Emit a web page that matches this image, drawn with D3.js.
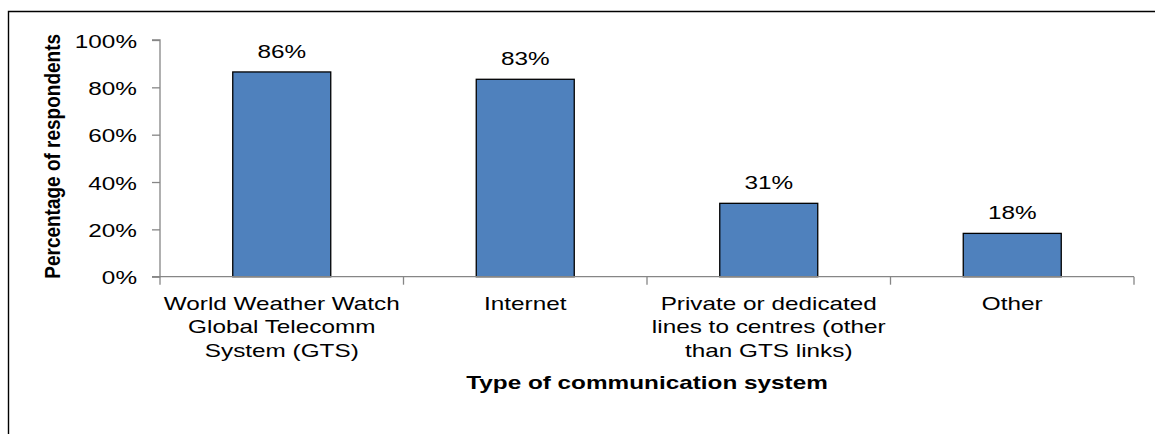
<!DOCTYPE html>
<html>
<head>
<meta charset="utf-8">
<script src="https://cdn.jsdelivr.net/npm/d3@7"></script>
<style>
  html, body { margin: 0; padding: 0; background: #fff; }
  svg { display: block; font-family: "Liberation Sans", Arial, sans-serif; }
</style>
</head>
<body>
<svg id="chart" width="1155" height="434"></svg>
<script>
const categories = [
  ["World Weather Watch", "Global Telecomm", "System (GTS)"],
  ["Internet"],
  ["Private or dedicated", "lines to centres (other", "than GTS links)"],
  ["Other"]
];
const values = [0.865, 0.834, 0.31, 0.183];
const labels = ["86%", "83%", "31%", "18%"];
const yTicks = [0, 0.2, 0.4, 0.6, 0.8, 1.0];
const yTitle = "Percentage of respondents";
const xTitle = "Type of communication system";

const SX = 1.28;   // horizontal stretch of the reference's text
const FS = 19;

const svg = d3.select("#chart");

// outer frame (top and left edges visible)
svg.append("path")
  .attr("d", "M8.5,434 L8.5,11.5 L1155,11.5")
  .attr("fill", "none").attr("stroke", "#000").attr("stroke-width", 1.4);

const pLeft = 160, pRight = 1134, pTop = 40, pBottom = 276.7;

const x = d3.scaleBand().domain(d3.range(categories.length))
  .range([pLeft, pRight]).paddingInner(0).paddingOuter(0);
const y = d3.scaleLinear().domain([0, 1]).range([pBottom, pTop]);

const barW = 98;

// bars
svg.selectAll("rect.bar").data(values).enter().append("rect")
  .attr("class", "bar")
  .attr("x", (d, i) => x(i) + x.bandwidth() / 2 - barW / 2)
  .attr("y", d => y(d))
  .attr("width", barW)
  .attr("height", d => y(0) - y(d))
  .attr("fill", "#4f81bd")
  .attr("stroke", "#000")
  .attr("stroke-width", 1.3);

// value labels
svg.selectAll("text.val").data(values).enter().append("text")
  .attr("class", "val")
  .attr("transform", (d, i) => `translate(${x(i) + x.bandwidth() / 2},${y(d) - 14}) scale(${SX},1)`)
  .attr("text-anchor", "middle")
  .attr("font-size", FS)
  .attr("fill", "#000")
  .text((d, i) => labels[i]);

// y axis
const yAxis = d3.axisLeft(y).tickValues(yTicks).tickFormat(d3.format(".0%"))
  .tickSize(8).tickPadding(0);
const gy = svg.append("g").attr("transform", `translate(${pLeft},0)`).call(yAxis);
gy.select(".domain").attr("stroke", "#868686").attr("stroke-width", 1.3)
  .attr("d", `M-8,${pTop}H0V${pBottom}H-8`);
gy.selectAll(".tick line").attr("stroke", "#868686").attr("stroke-width", 1.3);
gy.selectAll(".tick text")
  .attr("x", null).attr("dy", null)
  .attr("transform", `translate(-23,7) scale(${SX},1)`)
  .attr("font-size", FS).attr("fill", "#000")
  .attr("font-family", "Liberation Sans, Arial, sans-serif");

// x axis
const gx = svg.append("g").attr("transform", `translate(0,${pBottom})`);
gx.append("line").attr("x1", pLeft - 8).attr("x2", pRight).attr("y1", 0).attr("y2", 0)
  .attr("stroke", "#868686").attr("stroke-width", 1.3);
const edges = d3.range(categories.length + 1).map(i => i < categories.length ? x(i) : pRight);
gx.selectAll("line.tk").data(edges).enter().append("line")
  .attr("class", "tk")
  .attr("x1", d => d).attr("x2", d => d)
  .attr("y1", 0).attr("y2", 8)
  .attr("stroke", "#868686").attr("stroke-width", 1.3);

// x category labels
const xl = svg.selectAll("text.cat").data(categories).enter().append("text")
  .attr("class", "cat")
  .attr("transform", (d, i) => `translate(${x(i) + x.bandwidth() / 2},310) scale(${SX},1)`)
  .attr("text-anchor", "middle")
  .attr("font-size", FS)
  .attr("fill", "#000");
xl.each(function(lines) {
  const t = d3.select(this);
  lines.forEach((ln, j) => {
    t.append("tspan").attr("x", 0)
      .attr("dy", j === 0 ? 0 : 23.5).text(ln);
  });
});

// axis titles
svg.append("text")
  .attr("transform", `translate(${(pLeft + pRight) / 2},389) scale(${SX},1)`)
  .attr("text-anchor", "middle").attr("font-size", FS).attr("font-weight", "bold")
  .text(xTitle);

svg.append("text")
  .attr("transform", `translate(60,${(pTop + pBottom) / 2 - 2}) scale(1.12,1) rotate(-90)`)
  .attr("text-anchor", "middle").attr("font-size", FS).attr("font-weight", "bold")
  .text(yTitle);
</script>
</body>
</html>
